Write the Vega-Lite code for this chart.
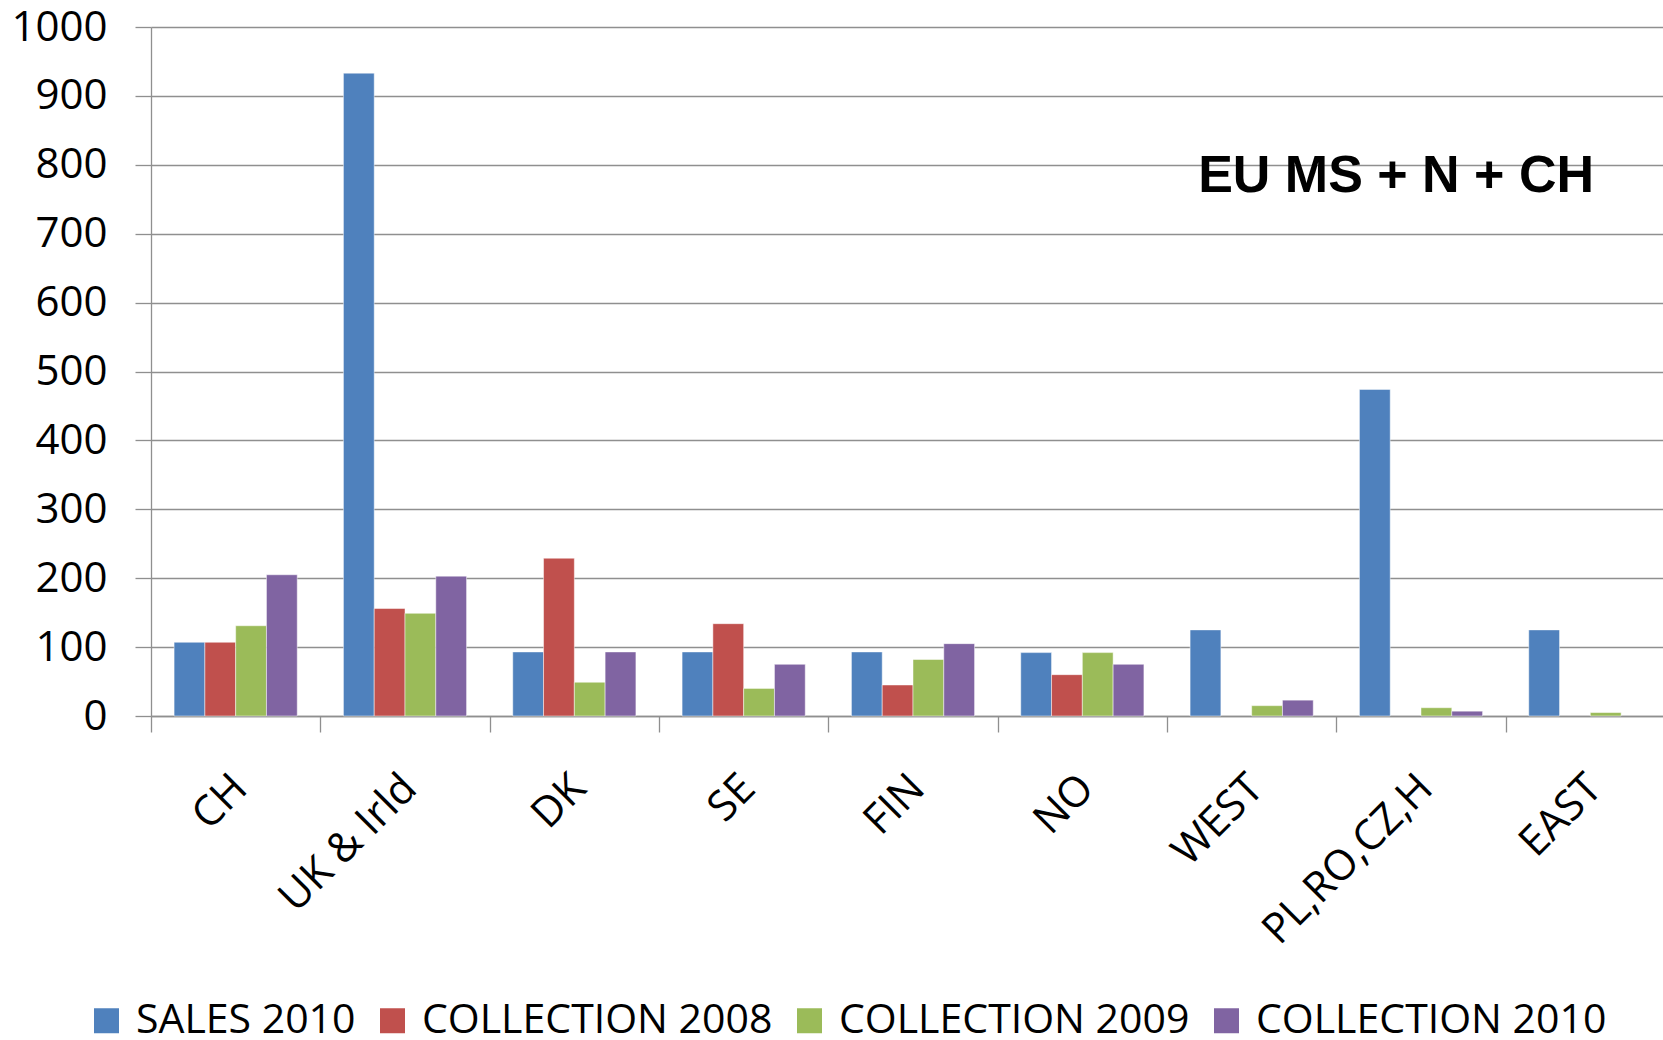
{
  "$schema": "https://vega.github.io/schema/vega-lite/v6.json",
  "width": 1512,
  "height": 689,
  "autosize": {"type": "none"},
  "padding": {"left": 151, "top": 27, "right": 0, "bottom": 324},
  "background": "white",
  "title": {
    "text": "EU MS + N + CH",
    "anchor": "end",
    "frame": "group",
    "font": "Liberation Sans",
    "fontSize": 52,
    "fontWeight": "bold",
    "color": "black",
    "baseline": "alphabetic",
    "offset": 0,
    "dx": -69,
    "dy": 238
  },
  "data": {
    "values": [
      {"region": "CH", "series": "SALES 2010", "value": 107},
      {"region": "CH", "series": "COLLECTION 2008", "value": 107},
      {"region": "CH", "series": "COLLECTION 2009", "value": 131},
      {"region": "CH", "series": "COLLECTION 2010", "value": 205},
      {"region": "UK & Irld", "series": "SALES 2010", "value": 933},
      {"region": "UK & Irld", "series": "COLLECTION 2008", "value": 156},
      {"region": "UK & Irld", "series": "COLLECTION 2009", "value": 149},
      {"region": "UK & Irld", "series": "COLLECTION 2010", "value": 203},
      {"region": "DK", "series": "SALES 2010", "value": 93},
      {"region": "DK", "series": "COLLECTION 2008", "value": 229},
      {"region": "DK", "series": "COLLECTION 2009", "value": 49},
      {"region": "DK", "series": "COLLECTION 2010", "value": 93},
      {"region": "SE", "series": "SALES 2010", "value": 93},
      {"region": "SE", "series": "COLLECTION 2008", "value": 134},
      {"region": "SE", "series": "COLLECTION 2009", "value": 40},
      {"region": "SE", "series": "COLLECTION 2010", "value": 75},
      {"region": "FIN", "series": "SALES 2010", "value": 93},
      {"region": "FIN", "series": "COLLECTION 2008", "value": 45},
      {"region": "FIN", "series": "COLLECTION 2009", "value": 82},
      {"region": "FIN", "series": "COLLECTION 2010", "value": 105},
      {"region": "NO", "series": "SALES 2010", "value": 92},
      {"region": "NO", "series": "COLLECTION 2008", "value": 60},
      {"region": "NO", "series": "COLLECTION 2009", "value": 92},
      {"region": "NO", "series": "COLLECTION 2010", "value": 75},
      {"region": "WEST", "series": "SALES 2010", "value": 125},
      {"region": "WEST", "series": "COLLECTION 2009", "value": 15},
      {"region": "WEST", "series": "COLLECTION 2010", "value": 23},
      {"region": "PL,RO,CZ,H", "series": "SALES 2010", "value": 474},
      {"region": "PL,RO,CZ,H", "series": "COLLECTION 2009", "value": 12},
      {"region": "PL,RO,CZ,H", "series": "COLLECTION 2010", "value": 7},
      {"region": "EAST", "series": "SALES 2010", "value": 125},
      {"region": "EAST", "series": "COLLECTION 2009", "value": 5}
    ]
  },
  "mark": {"type": "bar", "stroke": "white", "strokeWidth": 0.8, "strokeOpacity": 0.6},
  "encoding": {
    "x": {
      "field": "region",
      "type": "nominal",
      "sort": ["CH", "UK & Irld", "DK", "SE", "FIN", "NO", "WEST", "PL,RO,CZ,H", "EAST"],
      "scale": {"range": [0, 1524], "paddingInner": 0, "paddingOuter": 0},
      "axis": {
        "title": null,
        "labelAngle": -45,
        "labelFont": "Open Sans",
        "labelFontSize": 42,
        "labelColor": "black",
        "labelPadding": 35,
        "labelOffset": -10,
        "labelOverlap": false,
        "labelBound": false,
        "labelFlush": false,
        "labelLimit": 0,
        "ticks": true,
        "tickBand": "extent",
        "tickSize": 16,
        "tickColor": "#8f8f8f",
        "tickWidth": 1.3,
        "domainColor": "#8f8f8f",
        "domainWidth": 1.3,
        "grid": false
      }
    },
    "xOffset": {
      "field": "series",
      "type": "nominal",
      "sort": ["SALES 2010", "COLLECTION 2008", "COLLECTION 2009", "COLLECTION 2010"],
      "scale": {"paddingInner": 0, "paddingOuter": 0.75}
    },
    "y": {
      "field": "value",
      "type": "quantitative",
      "scale": {"domain": [0, 1000], "nice": false},
      "axis": {
        "title": null,
        "values": [0, 100, 200, 300, 400, 500, 600, 700, 800, 900, 1000],
        "format": "d",
        "labelFont": "Open Sans",
        "labelFontSize": 42,
        "labelColor": "black",
        "labelPadding": 28,
        "tickSize": 16,
        "tickColor": "#8f8f8f",
        "tickWidth": 1.3,
        "gridColor": "#8f8f8f",
        "gridWidth": 1.3,
        "domainColor": "#8f8f8f",
        "domainWidth": 1.3
      }
    },
    "color": {
      "field": "series",
      "type": "nominal",
      "scale": {
        "domain": ["SALES 2010", "COLLECTION 2008", "COLLECTION 2009", "COLLECTION 2010"],
        "range": ["#4F81BD", "#C0504D", "#9BBB59", "#8064A2"]
      },
      "legend": {
        "orient": "none",
        "legendX": -65,
        "legendY": 973,
        "direction": "horizontal",
        "title": null,
        "symbolType": "square",
        "symbolSize": 625,
        "symbolStrokeWidth": 0,
        "labelFont": "Open Sans",
        "labelFontSize": 41,
        "labelColor": "black",
        "labelOffset": 9,
        "columnPadding": 16,
        "padding": 0,
        "labelLimit": 0
      }
    }
  },
  "config": {"view": {"stroke": null}}
}
